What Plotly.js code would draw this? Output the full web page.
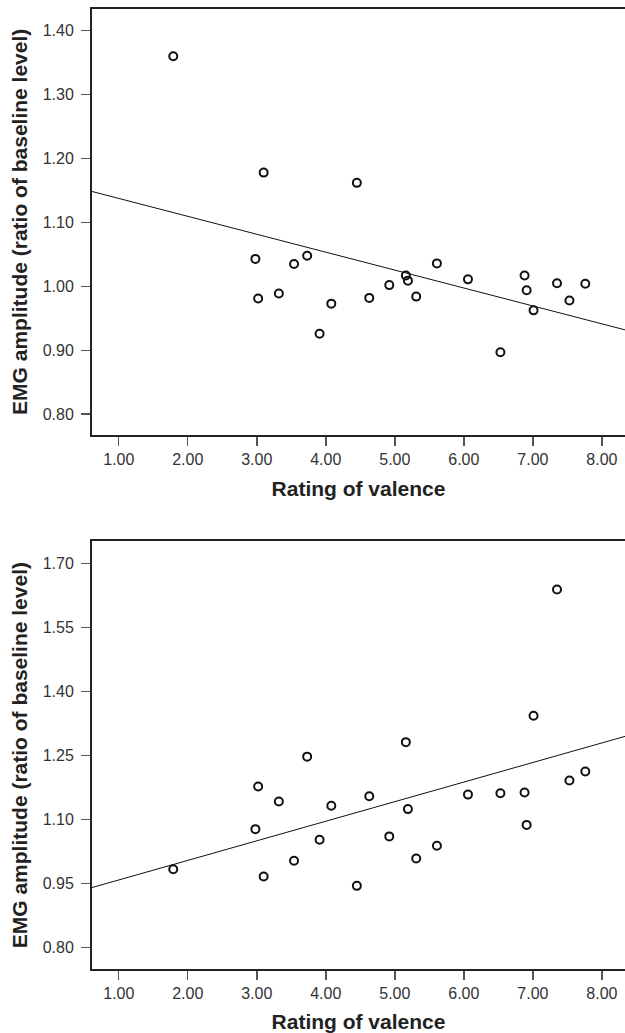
<!DOCTYPE html>
<html>
<head>
<meta charset="utf-8">
<script src="https://cdn.plot.ly/plotly-3.0.1.min.js"></script>
<style>html,body{margin:0;padding:0;background:#fff;}#chart{width:625px;height:1033px;}</style>
</head>
<body>
<div id="chart"></div>
<script>
// Rating of valence (x) for each stimulus
const valence = [1.79, 2.98, 3.02, 3.10, 3.32, 3.54, 3.73, 3.91, 4.08, 4.45, 4.63, 4.92,
                 5.16, 5.19, 5.31, 5.61, 6.06, 6.53, 6.88, 6.91, 7.01, 7.35, 7.53, 7.76];
// Top panel: EMG amplitude (ratio of baseline level)
const emgTop = [1.360, 1.043, 0.981, 1.178, 0.989, 1.035, 1.048, 0.926, 0.973, 1.162, 0.982, 1.002,
                1.017, 1.009, 0.984, 1.036, 1.011, 0.897, 1.017, 0.994, 0.9625, 1.005, 0.978, 1.004];
// Bottom panel: EMG amplitude (ratio of baseline level)
const emgBottom = [0.983, 1.077, 1.177, 0.966, 1.142, 1.003, 1.247, 1.052, 1.132, 0.944, 1.154, 1.060,
                   1.281, 1.124, 1.008, 1.038, 1.158, 1.161, 1.163, 1.087, 1.343, 1.639, 1.191, 1.212];
// Fit lines (at the plot edges)
const fitX = [0.613, 8.335];
const fitTop = [1.1485, 0.932];
const fitBottom = [0.940, 1.2946];

const xTitle = 'Rating of valence';
const yTitle = 'EMG amplitude (ratio of baseline level)';

const FONT = 'Liberation Sans, Arial, sans-serif';
const markerStyle = {symbol: 'circle-open', size: 8, color: '#111', line: {width: 2, color: '#111'}};

const traces = [
  {x: valence, y: emgTop, xaxis: 'x', yaxis: 'y', mode: 'markers', type: 'scatter', marker: markerStyle},
  {x: fitX, y: fitTop, xaxis: 'x', yaxis: 'y', mode: 'lines', type: 'scatter', line: {color: '#111', width: 1}},
  {x: valence, y: emgBottom, xaxis: 'x2', yaxis: 'y2', mode: 'markers', type: 'scatter', marker: markerStyle},
  {x: fitX, y: fitBottom, xaxis: 'x2', yaxis: 'y2', mode: 'lines', type: 'scatter', line: {color: '#111', width: 1}}
];

function xAxis(anchor) {
  return {
    anchor: anchor, domain: [0, 1], range: [fitX[0], fitX[1]],
    tick0: 1, dtick: 1, tickformat: '.2f',
    showline: true, linecolor: '#222', linewidth: 2, mirror: true,
    showgrid: false, zeroline: false,
    ticks: 'outside', ticklen: 9, tickwidth: 1.5, tickcolor: '#555',
    ticklabelstandoff: 0,
    tickfont: {family: FONT, size: 16, color: '#333'},
    title: {text: xTitle, font: {family: FONT, size: 21, color: '#222', weight: 'bold'}, standoff: 14}
  };
}
function yAxis(anchor, domain, range, dtick) {
  return {
    anchor: anchor, domain: domain, range: range,
    tick0: 0.8, dtick: dtick, tickformat: '.2f',
    showline: true, linecolor: '#222', linewidth: 2, mirror: false,
    showgrid: false, zeroline: false,
    ticks: 'outside', ticklen: 9, tickwidth: 1.5, tickcolor: '#555',
    ticklabelstandoff: 4,
    tickfont: {family: FONT, size: 16, color: '#333'},
    title: {text: yTitle, font: {family: FONT, size: 21, color: '#222', weight: 'bold'}, standoff: 9}
  };
}

const layout = {
  width: 625, height: 1033,
  margin: {l: 92, r: 0, t: 9, b: 64},
  paper_bgcolor: '#fff', plot_bgcolor: '#fff',
  showlegend: false,
  font: {family: FONT, color: '#222'},
  xaxis: xAxis('y'),
  yaxis: yAxis('x', [0.5566, 1], [0.768, 1.434], 0.1),
  xaxis2: xAxis('y2'),
  yaxis2: yAxis('x2', [0, 0.4455], [0.749, 1.752], 0.15)
};

Plotly.newPlot('chart', traces, layout, {displayModeBar: false, staticPlot: true});
</script>
</body>
</html>
